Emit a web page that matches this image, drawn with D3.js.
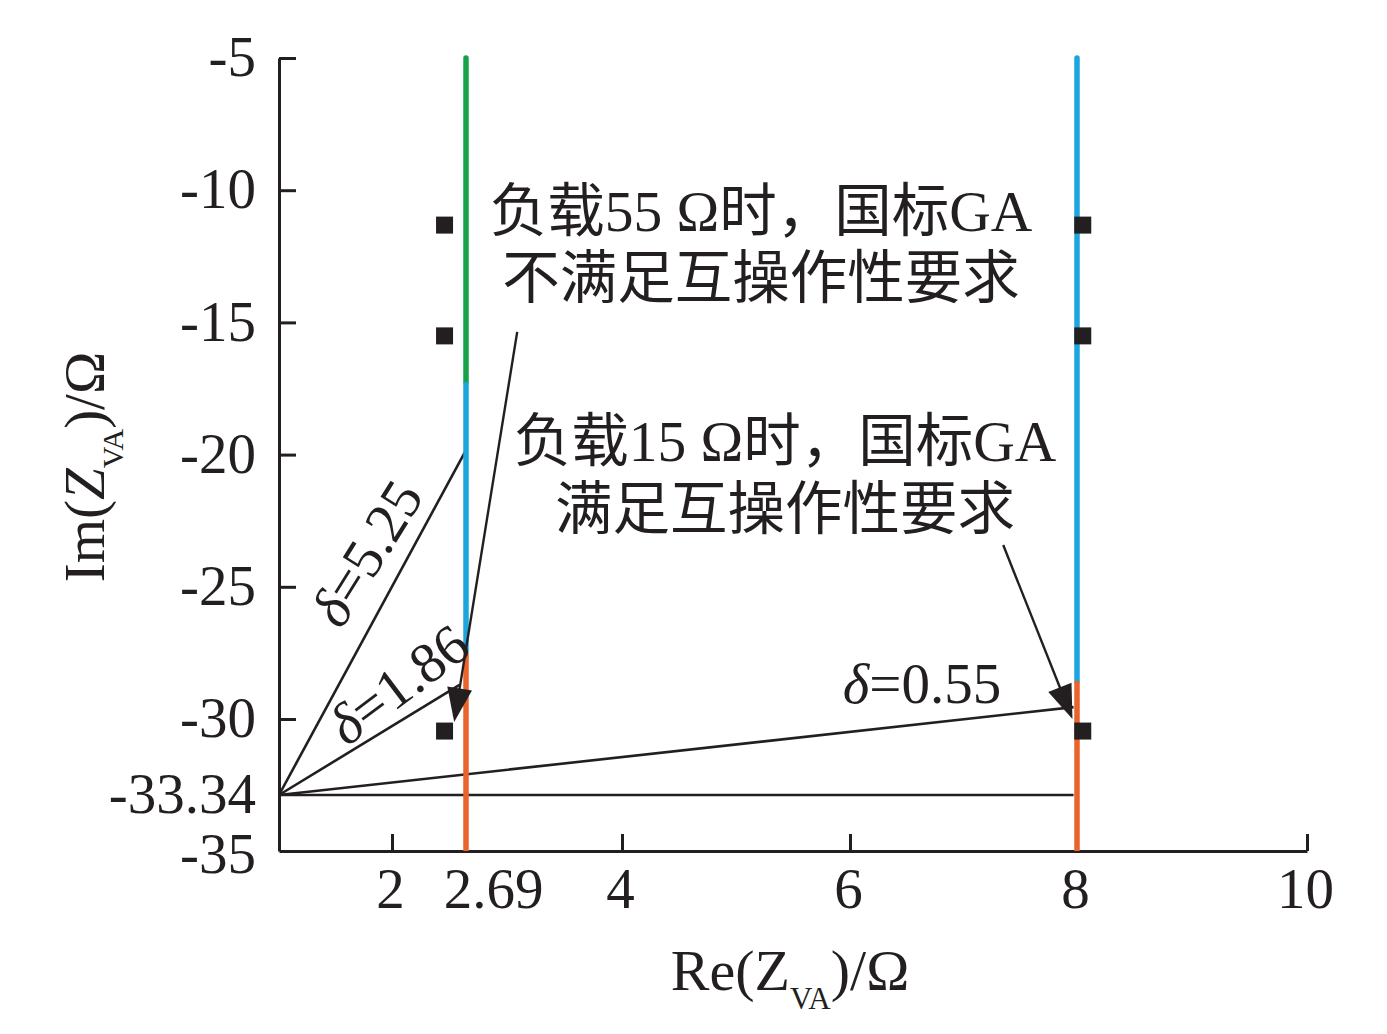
<!DOCTYPE html>
<html><head><meta charset="utf-8">
<script src="https://cdn.jsdelivr.net/npm/d3@7"></script>
<style>
html,body{margin:0;padding:0;background:#fff;}
text{font-family:"Liberation Serif","Noto Sans CJK SC",serif;fill:#231f20;}
</style></head>
<body><svg id="c" width="1387" height="1034"></svg>
<script>
// ---------- data ----------
const xTickValues = [2, 2.69, 4, 6, 8, 10];
const xTickLabels = ["2", "2.69", "4", "6", "8", "10"];
const yTickValues = [-5, -10, -15, -20, -25, -30, -33.34, -35];
const yTickLabels = ["-5", "-10", "-15", "-20", "-25", "-30", "-33.34", "-35"];

// vertical locus segments: [x, yFrom, yTo, kind]
const segX = [2.69, 2.69, 2.69, 8, 8];
const segY0 = [-5, -17.26, -27.5, -5, -28.56];
const segY1 = [-17.26, -27.5, -35, -28.56, -35];
const segKind = ["green", "blue", "orange", "blue", "orange"];

// origin of delta lines
const originX = 1, originY = -33.34;
// delta line end points
const deltaNames = ["5.25", "1.86", "0.55", "0"];
const deltaEndX = [2.69, 2.63, 7.97, 7.97];
const deltaEndY = [-19.83, -28.71, -29.55, -33.34];

// measured points (squares)
const ptX = [2.49, 2.49, 2.49, 8.05, 8.05, 8.05];
const ptY = [-11.32, -15.51, -30.53, -11.32, -15.51, -30.53];

// annotation arrows [fromX, fromY, toX, toY]
const arrowFromX = [3.12, 7.35];
const arrowFromY = [-15.36, -23.42];
const arrowToX = [2.58, 7.96];
const arrowToY = [-30.13, -30.0];

const note1 = ["负载55 Ω时，国标GA", "不满足互操作性要求"];
const note2 = ["负载15 Ω时，国标GA", "满足互操作性要求"];

// ---------- layout ----------
const colors = {green: "#17a24a", blue: "#1ca6e0", orange: "#e9632b"};
const ink = "#231f20";
const svg = d3.select("#c");

const x = d3.scaleLinear()
  .domain([1, 2, 2.69, 4, 6, 8, 10])
  .range([279, 392, 466, 622, 850, 1077, 1307]);
const y = d3.scaleLinear()
  .domain([-5, -30, -33.34, -35])
  .range([58, 719, 795, 851]);

// delta lines (below coloured loci)
const gl = svg.append("g");
deltaNames.forEach((d, i) => {
  gl.append("line")
    .attr("x1", x(originX)).attr("y1", y(originY))
    .attr("x2", x(deltaEndX[i])).attr("y2", y(deltaEndY[i]))
    .attr("stroke", ink).attr("stroke-width", 2.6);
});

// axes
const yAxis = d3.axisLeft(y).tickValues(yTickValues)
  .tickFormat((d, i) => yTickLabels[i]).tickSize(-17).tickSizeOuter(0).tickPadding(23);
const xAxis = d3.axisBottom(x).tickValues(xTickValues)
  .tickFormat((d, i) => xTickLabels[i]).tickSize(-17).tickSizeOuter(0).tickPadding(17);

const gy = svg.append("g").attr("transform", `translate(${x(1)},0)`).call(yAxis);
const gx = svg.append("g").attr("transform", `translate(0,${y(-35)})`).call(xAxis);
[gx, gy].forEach(g => {
  g.select(".domain").attr("stroke", ink).attr("stroke-width", 3);
  g.selectAll(".tick line").attr("stroke", ink).attr("stroke-width", 3);
  g.selectAll(".tick text").attr("font-size", 57).attr("fill", ink)
    .attr("font-family", "Liberation Serif");
});
gy.selectAll(".tick text").attr("dy", "0.31em");
gy.selectAll(".tick").filter(d => d === -35).select("text").attr("dy", "0.38em");
gx.selectAll(".tick text").attr("dx", (d) => d === 2.69 ? 27 : -2);
gy.selectAll(".tick").filter(d => d === -33.34 || d === -35).select("line").remove();

// coloured loci
const gs = svg.append("g");
segX.forEach((sx, i) => {
  gs.append("line")
    .attr("x1", x(sx)).attr("x2", x(sx))
    .attr("y1", y(segY0[i])).attr("y2", y(segY1[i]))
    .attr("stroke", colors[segKind[i]]).attr("stroke-width", 5.5)
    .attr("stroke-linecap", i === 0 || i === 3 ? "round" : "butt");
});

// squares
const sq = 17;
svg.append("g").selectAll("rect").data(ptX).join("rect")
  .attr("x", (d) => x(d) - sq / 2)
  .attr("y", (d, i) => y(ptY[i]) - sq / 2)
  .attr("width", sq).attr("height", sq).attr("fill", ink);

// arrows
const ga = svg.append("g");
arrowFromX.forEach((fx, i) => {
  const x0 = x(fx), y0 = y(arrowFromY[i]);
  const x1 = x(arrowToX[i]), y1 = y(arrowToY[i]);
  const len = Math.hypot(x1 - x0, y1 - y0);
  const ux = (x1 - x0) / len, uy = (y1 - y0) / len;
  const L = 34, W = 12.5;
  const bx = x1 - ux * L, by = y1 - uy * L;
  ga.append("line").attr("x1", x0).attr("y1", y0).attr("x2", bx + ux * 2).attr("y2", by + uy * 2)
    .attr("stroke", ink).attr("stroke-width", 2.4);
  ga.append("path")
    .attr("d", `M${x1},${y1}L${bx - uy * W},${by + ux * W}L${bx + uy * W},${by - ux * W}Z`)
    .attr("fill", ink);
});

// notes
function note(lines, cx, baselines) {
  lines.forEach((t, i) => {
    svg.append("text").attr("x", cx).attr("y", baselines[i])
      .attr("text-anchor", "middle").attr("font-size", 57.5).text(t);
  });
}
note(note1, 761, [231, 298]);
note(note2, 785, [461, 529]);

// delta labels
function deltaLabel(val, cx, cy, rot) {
  const t = svg.append("text").attr("transform", `translate(${cx},${cy}) rotate(${rot})`)
    .attr("text-anchor", "middle").attr("dy", "0.35em").attr("font-size", 57);
  t.append("tspan").attr("font-style", "italic").text("δ");
  t.append("tspan").text("=" + val);
}
deltaLabel(deltaNames[0], 366, 553, -58);
deltaLabel(deltaNames[1], 398, 684, -37);
deltaLabel(deltaNames[2], 922, 683, 0);

// axis titles
const xt = svg.append("text").attr("x", 790).attr("y", 990)
  .attr("text-anchor", "middle").attr("font-size", 58);
xt.append("tspan").text("Re(Z");
xt.append("tspan").attr("font-size", 31).attr("dy", 19).text("VA");
xt.append("tspan").attr("dy", -19).text(")/Ω");

const yt = svg.append("text").attr("transform", "translate(104,467) rotate(-90)")
  .attr("text-anchor", "middle").attr("font-size", 57);
yt.append("tspan").text("Im(");
yt.append("tspan").attr("font-style", "italic").text("Z");
yt.append("tspan").attr("font-size", 30).attr("dy", 19).text("VA");
yt.append("tspan").attr("dy", -19).text(")/Ω");
</script>
</body></html>
